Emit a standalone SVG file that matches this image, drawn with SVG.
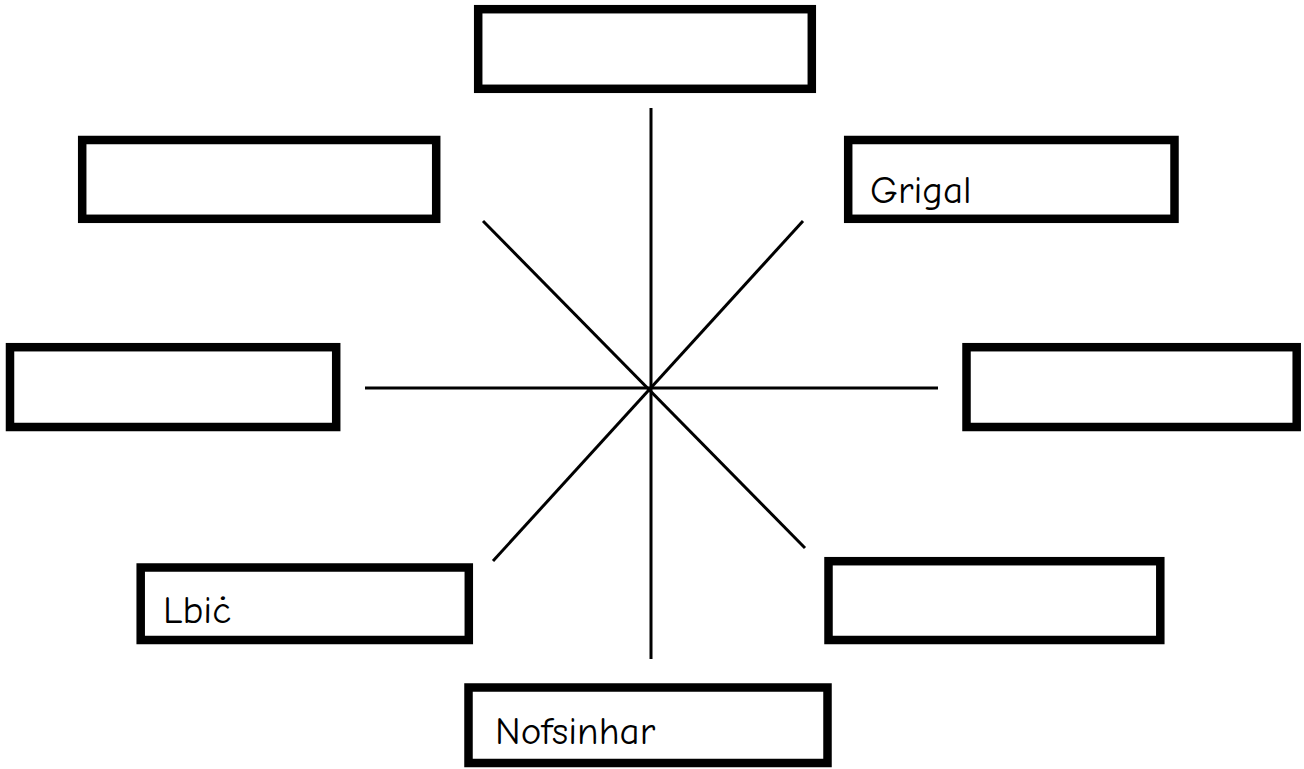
<svg xmlns="http://www.w3.org/2000/svg" width="1304" height="769" viewBox="0 0 1304 769">
<style>
.box{fill:#fff;stroke:#000;stroke-width:8.5}
.ln{stroke:#000;stroke-width:3;fill:none}
.lbl{font-family:"Comic Neue","Liberation Sans",sans-serif;font-size:39px;fill:#000}
</style>
<rect width="1304" height="769" fill="#fff"/>
<g id="connectors">
<line class="ln" x1="651" y1="108" x2="651" y2="659"/>
<line class="ln" x1="365" y1="388" x2="938" y2="388"/>
<line class="ln" x1="483" y1="221" x2="805" y2="548"/>
<line class="ln" x1="803" y1="221" x2="493" y2="561"/>
</g>
<g id="n-top"><rect class="box" x="478.2" y="9.2" width="333.6" height="79.6"/></g>
<g id="n-topleft"><rect class="box" x="82.2" y="140" width="354" height="78.8"/></g>
<g id="n-topright"><rect class="box" x="848.2" y="140" width="326.3" height="78.8"/><text class="lbl" x="870" y="203">Grigal</text></g>
<g id="n-left"><rect class="box" x="10" y="347.2" width="326.2" height="79.8"/></g>
<g id="n-right"><rect class="box" x="966.5" y="347.2" width="330.2" height="79.8"/></g>
<g id="n-bottomleft"><rect class="box" x="140.7" y="567.5" width="328.1" height="72.5"/><text class="lbl" x="163" y="623">Lbiċ</text></g>
<g id="n-bottomright"><rect class="box" x="828.5" y="561.2" width="331.8" height="78.8"/></g>
<g id="n-bottom"><rect class="box" x="468.5" y="687.5" width="359" height="75.5"/><text class="lbl" x="495" y="744">Nofsinhar</text></g>
</svg>
